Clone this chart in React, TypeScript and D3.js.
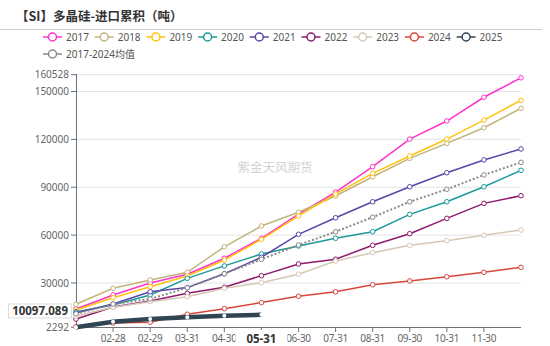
import React from "react";
import * as d3 from "d3";

const categories = ["01-31","02-28","02-29","03-31","04-30","05-31","06-30","07-31","08-31","09-30","10-31","11-30","12-31"];
const s2017 = [13700,22500,30000,35450,45500,58000,73200,87000,102900,120200,131500,146400,158600];
const s2018 = [16650,26700,31900,36700,52700,65700,74300,84500,96600,108100,117500,127300,139500];
const s2019 = [13100,20800,27700,34400,44400,57400,72000,85800,98700,109600,120200,132100,144500];
const s2020 = [12000,16200,22500,32900,40700,48200,53200,58000,62100,73000,80900,90300,100600];
const s2021 = [11200,16800,24500,27100,35800,46100,60500,70900,80900,90300,99100,107100,114000];
const s2022 = [7400,15000,18700,23500,27300,34600,41900,44900,53600,60900,70500,79900,84700];
const s2023 = [9300,14800,18300,21400,26700,30200,35500,43800,49000,53600,56500,59900,63200];
const s2024 = [2600,4900,5400,10400,13900,17700,21700,24500,28900,31300,33900,36700,39800];
const s2025 = [2292,5750,7400,8500,9500,10097.089];
const sAvg = [10700,16800,20000,27000,35800,44800,53800,62100,71200,80900,88700,97700,105600];
const yTicks = [2292,30000,60000,90000,120000,150000,160528];

const seriesNames = ["2017","2018","2019","2020","2021","2022","2023","2024","2025","2017-2024均值"];
const seriesData = [s2017,s2018,s2019,s2020,s2021,s2022,s2023,s2024,s2025,sAvg];
const seriesColors = ["#ff33cc","#c2b47c","#ffc20e","#1c9a9a","#5a45a8","#8e1a6e","#d6c7b5","#d9463c","#2f4554","#8a8a8a"];

const FONT = "'Noto Sans', 'Noto Sans CJK SC', sans-serif";
const CJK = "'Noto Sans CJK SC', sans-serif";

export default function App() {
  const W = 550, H = 346;
  const x = d3.scalePoint<string>().domain(categories).range([76, 521]);
  const y = d3.scaleLinear().domain([2292, 160528]).range([327.2, 74.7]);
  const line = (arr: number[]) =>
    d3.line<number>().x((_, i) => x(categories[i]) as number).y((v) => y(v))(arr) as string;

  const drawOrder = [0,1,2,3,4,5,6,7,9,8];
  const pointerCat = "05-31";
  const pointerVal = s2025[s2025.length - 1];
  const px = x(pointerCat) as number;

  return (
    <svg width={W} height={H} style={{ position: "absolute", left: 0, top: 0, fontFamily: FONT }}>
      <rect x={0} y={0} width={W} height={H} fill="#fff" />
      {/* Title */}
      <text x={16} y={20.5} fontSize={12.5} fontWeight="bold" fill="#333" fontFamily={CJK}>【SI】多晶硅-进口累积（吨）</text>
      <line x1={0} x2={542} y1={29.5} y2={29.5} stroke="#ccc" strokeWidth={1} />

      {/* Legend */}
      {seriesNames.map((n, i) => {
        const row = i < 9 ? 0 : 1;
        const lx = row === 0 ? 43 + i * 51.7 : 43;
        const ly = row === 0 ? 37 : 54;
        const c = seriesColors[i];
        return (
          <g key={n}>
            <line x1={lx} x2={lx + 19} y1={ly} y2={ly} stroke={c} strokeWidth={1.5} />
            <circle cx={lx + 9.5} cy={ly} r={4} fill="#fff" stroke={c} strokeWidth={1.5} />
            <text x={lx + 23} y={ly + 3.6} fontSize={10} fill="#555" fontFamily={FONT}>{n}</text>
          </g>
        );
      })}

      {/* Watermark */}
      <text x={275} y={172} fontSize={12.5} fill="#d3d3d3" textAnchor="middle" fontFamily={CJK}>紫金天风期货</text>

      {/* Gridlines */}
      {yTicks.filter((t) => t !== 2292).map((t) => (
        <line key={t} x1={76} x2={521} y1={y(t)} y2={y(t)} stroke="#e3e3e3" strokeWidth={1} />
      ))}

      {/* Y axis */}
      <line x1={76.5} x2={76.5} y1={74} y2={327.5} stroke="#6e7079" strokeWidth={1} />
      {yTicks.map((t) => (
        <g key={t}>
          <line x1={71} x2={76} y1={y(t)} y2={y(t)} stroke="#6e7079" />
          <text x={69} y={y(t) + 3.6} fontSize={10} fill="#666" textAnchor="end">{t}</text>
        </g>
      ))}

      {/* X axis */}
      <line x1={76} x2={521} y1={327.5} y2={327.5} stroke="#6e7079" strokeWidth={1} />
      {categories.map((c, i) => (
        <g key={c}>
          {i > 0 && i < categories.length - 1 && (
            <line x1={x(c)} x2={x(c)} y1={327} y2={332} stroke="#6e7079" />
          )}
          {i > 0 && i < categories.length - 1 && c !== pointerCat && (
            <text x={x(c)} y={341.5} fontSize={10} letterSpacing={-0.3} fill="#666" textAnchor="middle">{c}</text>
          )}
        </g>
      ))}

      {/* Series */}
      {drawOrder.map((si) => {
        const data = seriesData[si];
        const c = seriesColors[si];
        const is2025 = si === 8;
        const isAvg = si === 9;
        return (
          <g key={si}>
            <path d={line(data)} fill="none" stroke={c} strokeWidth={is2025 ? 4.5 : isAvg ? 2 : 1.5}
              strokeDasharray={isAvg ? "2,2" : undefined} />
            {data.map((v, i) => (
              <circle key={i} cx={x(categories[i])} cy={y(v)} r={is2025 ? 2 : 2.3}
                fill="#fff" stroke={is2025 ? "none" : c} strokeWidth={1} />
            ))}
          </g>
        );
      })}

      {/* Axis pointer labels */}
      <g>
        <rect x={8.5} y={304} width={63} height={14} fill="#fff" stroke="#ddd" strokeWidth={1} />
        <text x={68} y={315} fontSize={11.5} fontWeight="bold" fill="#333" textAnchor="end">{pointerVal}</text>
      </g>
      <g>
        <rect x={px - 26} y={330} width={52} height={16} fill="#fff" />
        <text x={px} y={342.5} fontSize={11.5} fontWeight="bold" fill="#333" textAnchor="middle">{pointerCat}</text>
      </g>
    </svg>
  );
}
